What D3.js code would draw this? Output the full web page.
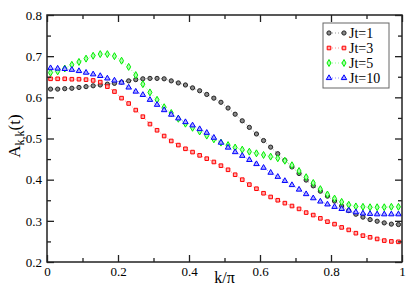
<!DOCTYPE html>
<html><head><meta charset="utf-8">
<script src="https://cdn.jsdelivr.net/npm/d3@7"></script>
</head>
<body style="margin:0">
<svg id="chart" width="407" height="286" font-family="Liberation Serif" style="display:block;font-family:'Liberation Serif', serif"></svg>
<script>
const kValues = [0.01,0.03,0.05,0.07,0.09,0.11,0.13,0.15,0.17,0.19,
  0.21,0.23,0.25,0.27,0.29,0.31,0.33,0.35,0.37,0.39,
  0.41,0.43,0.45,0.47,0.49,0.51,0.53,0.55,0.57,0.59,
  0.61,0.63,0.65,0.67,0.69,0.71,0.73,0.75,0.77,0.79,
  0.81,0.83,0.85,0.87,0.89,0.91,0.93,0.95,0.97,0.99];

const jt1 = [0.620,0.620,0.621,0.622,0.624,0.626,0.628,0.630,0.632,0.634,
  0.637,0.640,0.643,0.645,0.646,0.646,0.645,0.640,0.635,0.630,
  0.623,0.616,0.607,0.598,0.588,0.574,0.559,0.543,0.527,0.511,
  0.495,0.479,0.463,0.447,0.431,0.415,0.399,0.385,0.372,0.360,
  0.348,0.336,0.325,0.316,0.309,0.303,0.299,0.295,0.292,0.291];

const jt3 = [0.645,0.645,0.645,0.644,0.644,0.643,0.641,0.637,0.626,0.614,
  0.598,0.585,0.569,0.553,0.535,0.520,0.506,0.494,0.484,0.475,
  0.467,0.459,0.451,0.443,0.434,0.424,0.412,0.400,0.388,0.378,
  0.367,0.358,0.350,0.343,0.336,0.329,0.320,0.314,0.306,0.298,
  0.292,0.284,0.278,0.270,0.264,0.260,0.256,0.252,0.250,0.249];

const jt5 = [0.660,0.663,0.670,0.679,0.686,0.694,0.701,0.705,0.705,0.700,
  0.689,0.674,0.654,0.632,0.612,0.594,0.576,0.562,0.548,0.536,
  0.526,0.517,0.507,0.498,0.490,0.484,0.478,0.473,0.468,0.464,
  0.460,0.456,0.452,0.446,0.435,0.421,0.406,0.392,0.377,0.364,
  0.354,0.346,0.339,0.335,0.334,0.333,0.333,0.333,0.334,0.334];

const jt10 = [0.671,0.670,0.669,0.667,0.664,0.660,0.656,0.652,0.646,0.641,
  0.636,0.624,0.614,0.606,0.594,0.582,0.569,0.558,0.549,0.540,
  0.532,0.523,0.514,0.502,0.490,0.478,0.467,0.458,0.448,0.438,
  0.429,0.417,0.407,0.397,0.387,0.376,0.365,0.355,0.347,0.340,
  0.334,0.329,0.325,0.321,0.318,0.317,0.316,0.316,0.316,0.316];

const seriesNames = ["Jt=1","Jt=3","Jt=5","Jt=10"];
const xTickValues = [0,0.2,0.4,0.6,0.8,1];
const xTickLabels = ["0","0.2","0.4","0.6","0.8","1"];
const yTickValues = [0.2,0.3,0.4,0.5,0.6,0.7,0.8];
const yTickLabels = ["0.2","0.3","0.4","0.5","0.6","0.7","0.8"];
const xMinorTicks = [0.1,0.3,0.5,0.7,0.9];
const yMinorTicks = [0.25,0.35,0.45,0.55,0.65,0.75];

const styles = [
  {stroke:"#222", fill:"#8a8a8a", line:"#999", symbol:d3.symbolCircle, size:14},
  {stroke:"#ff0000", fill:"#ffaaaa", line:"#ff9090", symbol:d3.symbolSquare, size:13},
  {stroke:"#00ee00", fill:"#aaffaa", line:"#90ff90", symbol:d3.symbolDiamond, size:14},
  {stroke:"#0000ff", fill:"#aaaaff", line:"#9090ff", symbol:d3.symbolTriangle, size:13}
];
const seriesData = [jt1, jt3, jt5, jt10];

const L = 47, R = 402, T = 15, B = 262;
const x = d3.scaleLinear().domain([0,1]).range([L,R]);
const y = d3.scaleLinear().domain([0.2,0.8]).range([B,T]);
const FONT = "'Liberation Serif', serif";

const svg = d3.select("#chart");

const line = d3.line().x((d,i)=>x(kValues[i])).y(d=>y(d));
seriesData.forEach((vals, s) => {
  const st = styles[s];
  svg.append("path").attr("d", line(vals))
    .attr("fill","none").attr("stroke", st.line).attr("stroke-width",1)
    .attr("stroke-dasharray","1,2");
});
seriesData.forEach((vals, s) => {
  const st = styles[s];
  const sym = d3.symbol().type(st.symbol).size(st.size);
  svg.append("g").selectAll("path").data(vals).join("path")
    .attr("d", sym)
    .attr("transform",(d,i)=>`translate(${x(kValues[i])},${y(d)})`)
    .attr("fill", st.fill).attr("stroke", st.stroke).attr("stroke-width",1);
});

svg.append("rect").attr("x",L).attr("y",T).attr("width",R-L).attr("height",B-T)
  .attr("fill","none").attr("stroke","#222").attr("stroke-width",1.5);

function axisTicks(axisGen, tr, values, size, labels){
  const g = svg.append("g").attr("transform", tr);
  g.call(axisGen.tickValues(values).tickSize(-size).tickPadding(5)
    .tickFormat(labels ? ((d,i)=>labels[i]) : ()=>""));
  g.attr("font-family", null).attr("font-size", null);
  g.select(".domain").remove();
  g.selectAll(".tick line").attr("stroke","#222").attr("stroke-width",1.3);
  g.selectAll(".tick text").attr("font-size",13).style("font-family",FONT).attr("fill","#000");
  return g;
}
axisTicks(d3.axisBottom(x), `translate(0,${B})`, xTickValues, 7, xTickLabels);
axisTicks(d3.axisBottom(x), `translate(0,${B})`, xMinorTicks, 4, null);
axisTicks(d3.axisTop(x), `translate(0,${T})`, xTickValues, 7, null);
axisTicks(d3.axisTop(x), `translate(0,${T})`, xMinorTicks, 4, null);
axisTicks(d3.axisLeft(y), `translate(${L},0)`, yTickValues, 7, yTickLabels);
axisTicks(d3.axisLeft(y), `translate(${L},0)`, yMinorTicks, 4, null);
axisTicks(d3.axisRight(y), `translate(${R},0)`, yTickValues, 7, null);
axisTicks(d3.axisRight(y), `translate(${R},0)`, yMinorTicks, 4, null);

svg.append("text").attr("x",(L+R)/2).attr("y",283).attr("text-anchor","middle")
  .attr("font-size",16).style("font-family",FONT).text("k/π");
const yt = svg.append("text").attr("transform","translate(20,136) rotate(-90)")
  .attr("text-anchor","middle").attr("font-size",17).style("font-family",FONT);
yt.append("tspan").text("A");
yt.append("tspan").attr("font-size",12).attr("dy",4).text("k,k");
yt.append("tspan").attr("dy",-4).text("(t)");

const lg = svg.append("g");
lg.append("rect").attr("x",323).attr("y",23).attr("width",66).attr("height",65)
  .attr("fill","#fff").attr("stroke","#666").attr("stroke-width",1);
seriesNames.forEach((name, s) => {
  const st = styles[s];
  const yy = 33 + s*15;
  lg.append("line").attr("x1",329).attr("x2",344).attr("y1",yy).attr("y2",yy)
    .attr("stroke",st.line).attr("stroke-width",1).attr("stroke-dasharray","1,2");
  const sym = d3.symbol().type(st.symbol).size(st.size);
  [329,344].forEach(px => lg.append("path").attr("d",sym)
    .attr("transform",`translate(${px},${yy})`)
    .attr("fill",st.fill).attr("stroke",st.stroke).attr("stroke-width",1));
  lg.append("text").attr("x",349).attr("y",yy+5).attr("font-size",14).style("font-family",FONT).text(name);
});
</script>
</body></html>
